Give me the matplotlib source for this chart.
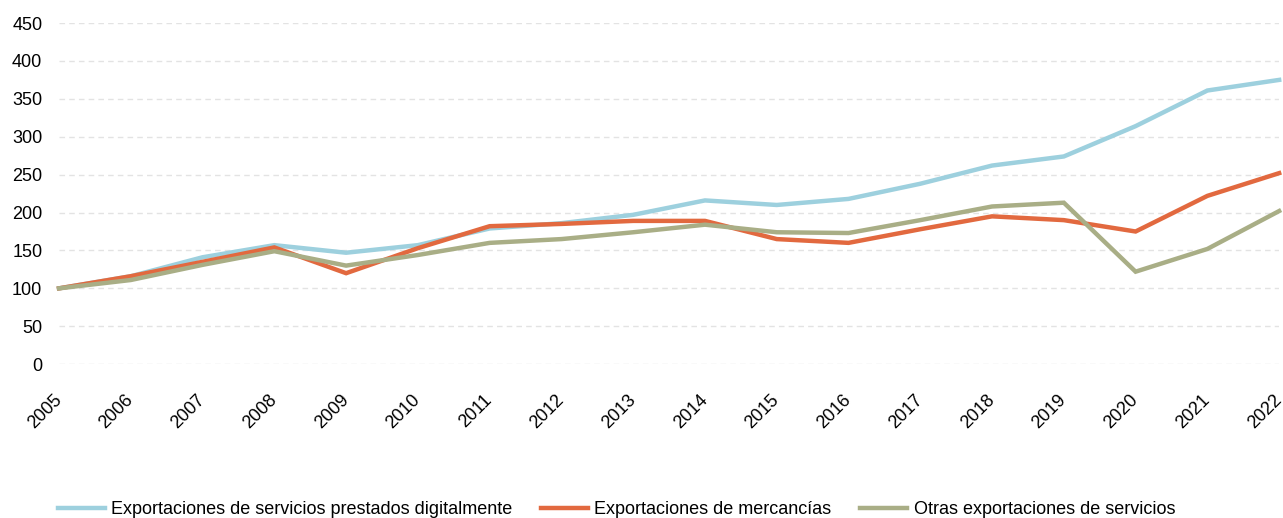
import matplotlib
matplotlib.use('Agg')
import matplotlib.pyplot as plt

plt.rcParams['font.family'] = ['Liberation Sans', 'DejaVu Sans']

years = list(range(2005, 2023))

# indice 2005 = 100
digital = [100, 116, 141, 157, 147, 157, 179, 186, 197, 216, 210, 218, 238, 262, 274, 314, 361, 375]
mercancias = [100, 116, 135, 154, 120, 153, 182, 185, 189, 189, 165, 160, 178, 195, 190, 175, 222, 252]
otras = [100, 111, 131, 149, 130, 144, 160, 165, 174, 184, 174, 173, 190, 208, 213, 122, 152, 202]

labels = ['Exportaciones de servicios prestados digitalmente',
          'Exportaciones de mercancías',
          'Otras exportaciones de servicios']
colors = ['#9dd0de', '#e2693f', '#a9ae86']
yticks = [0, 50, 100, 150, 200, 250, 300, 350, 400, 450]

fig = plt.figure(figsize=(12.83, 5.18), dpi=100)
ax = fig.add_axes([0.046, 0.297, 0.951, 0.6585])

for series, lab, col in zip([digital, mercancias, otras], labels, colors):
    ax.plot(years, series, color=col, linewidth=3.2, label=lab, clip_on=False,
            solid_joinstyle='miter')

ax.set_xlim(2005, 2022)
ax.set_ylim(0, 450)
ax.set_yticks(yticks)
ax.set_xticks(years)
ax.set_xticklabels([str(y) for y in years], rotation=45, ha='right', va='center',
                   rotation_mode='anchor', fontsize=13)
ax.tick_params(axis='y', labelsize=13, length=0, pad=12)
ax.tick_params(axis='x', length=0, pad=24)
ax.grid(axis='y', color='#e3e3e3', linestyle=(0, (4, 3)), linewidth=1)
ax.set_axisbelow(True)
for s in ax.spines.values():
    s.set_visible(False)

fig.legend(loc='center', bbox_to_anchor=(0.4805, 0.016), ncol=3, frameon=False,
           fontsize=13, handlelength=2.6, handletextpad=0.35, columnspacing=1.6)

fig.savefig('out.png', dpi=100)
